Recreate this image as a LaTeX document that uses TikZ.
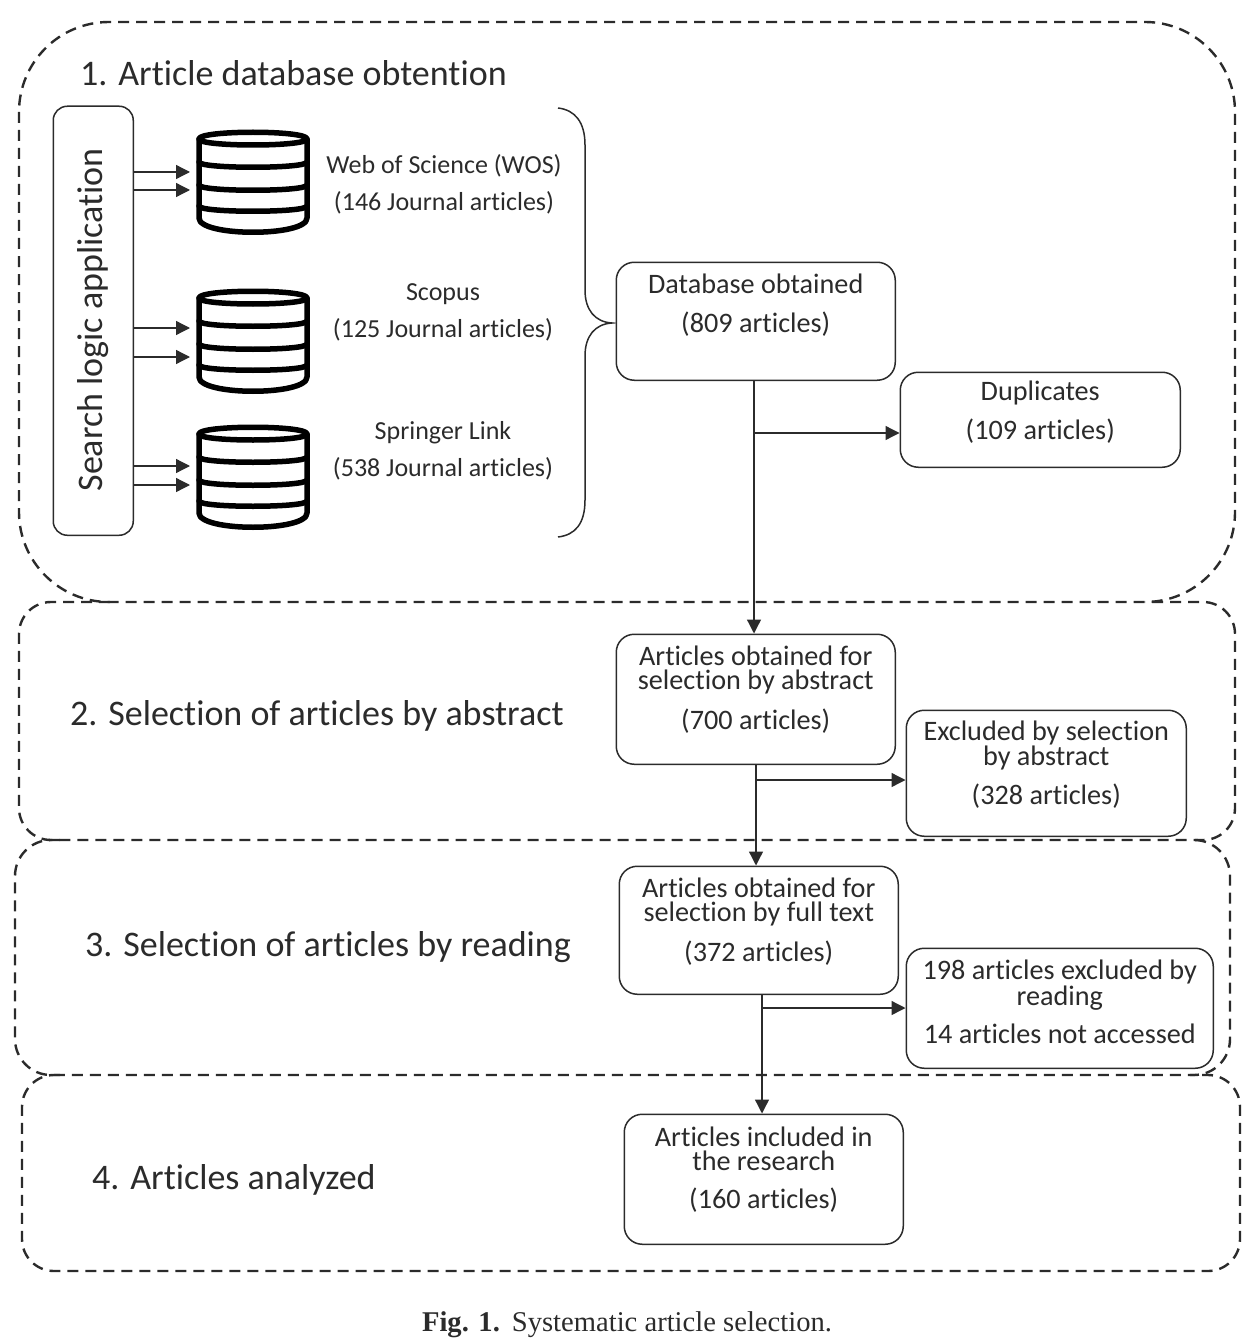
\documentclass[tikz,border=0pt]{standalone}
\usepackage{fontspec}
\setmainfont{Carlito}[Ligatures={NoCommon,NoContextual}]
\newfontfamily\capfont{Liberation Serif}
\usetikzlibrary{arrows.meta}
\definecolor{ink}{HTML}{2B2B2B}
\tikzset{
  x=1pt,y=-1pt,
  every node/.style={text=ink},
  region/.style={draw=ink,line width=2.4pt,dash pattern=on 11pt off 7pt},
  flowbox/.style={draw=ink,line width=1.5pt,rounded corners=18pt,fill=white,inner sep=0pt,anchor=north west},
  boxtext/.style={align=center,font=\fontsize{28.2}{24}\selectfont,inner sep=0pt},
  boxtextwide/.style={align=center,font=\fontsize{28.2}{39}\selectfont,inner sep=0pt},
  dbtext/.style={align=center,font=\fontsize{26}{37}\selectfont,inner sep=0pt},
  heading/.style={font=\fontsize{36}{40}\selectfont,inner sep=0pt,anchor=base west},
  flow/.style={draw=ink,line width=1.3pt,-{Triangle[length=14pt,width=14pt]}},
  dbline/.style={draw=black,line width=5.5pt,line cap=round,line join=round},
}
\newcommand{\dbicon}[1]{%
  \begin{scope}[shift={(0,#1)}]
    \draw[dbline] (199,9) .. controls (199,0) and (307,0) .. (307,9) .. controls (307,17) and (199,17) .. (199,9);
    \draw[dbline] (199,9) -- (199,88) .. controls (199,107) and (307,107) .. (307,88) -- (307,9);
    \draw[dbline] (199,32) .. controls (199,39) and (307,39) .. (307,32);
    \draw[dbline] (199,55) .. controls (199,62) and (307,62) .. (307,55);
    \draw[dbline] (199,76) .. controls (199,83) and (307,83) .. (307,76);
  \end{scope}}
\begin{document}
\begin{tikzpicture}
\useasboundingbox (0,0) rectangle (1258,1340);
% regions: shared edges are drawn only once so that the dashes stay visible
\draw[region,rounded corners=90pt] (19,22) rectangle (1235,602);
\draw[region,rounded corners=32pt] (110,602) -| (19,840) -| (1235,602) -- (1145,602);
\draw[region,rounded corners=36pt] (60,840) -| (15,1075) -| (1230,840) -- (1190,840);
\draw[region,rounded corners=32pt] (60,1075) -| (22,1271) -| (1240,1075) -- (1190,1075);
% headings
\node[heading] (h1) at (80,86) {1. Article database obtention};
\node[heading] (h2) at (70,725) {2. Selection of articles by abstract};
\node[heading] (h3) at (85,956) {3. Selection of articles by reading};
\node[heading] (h4) at (92,1189) {4. Articles analyzed};
% search logic box
\node[flowbox,rounded corners=14pt,minimum width=80pt,minimum height=429pt,
  label={[inner sep=0pt,rotate=90,font=\fontsize{36}{40}\selectfont,xshift=1pt]center:Search logic application}] (search) at (52.5,105.5) {};
% databases
\dbicon{130}\dbicon{289}\dbicon{425}
\coordinate (a1) at (190,172); \coordinate (a2) at (190,190);
\coordinate (a3) at (190,328); \coordinate (a4) at (190,357);
\coordinate (a5) at (190,466); \coordinate (a6) at (190,485);
\foreach \n in {a1,a2,a3,a4,a5,a6} \draw[flow] (search.east |- \n) -- (\n);
\node[dbtext] (wos) at (444,184) {Web of Science (WOS)\\(146 Journal articles)};
\node[dbtext] (sco) at (443,312) {Scopus\\(125 Journal articles)};
\node[dbtext] (spr) at (443,451) {Springer Link\\(538 Journal articles)};
% brace
\draw[draw=ink,line width=1.5pt] (558,108) .. controls (575,110) and (585,122) .. (585,145)
  -- (585,290) .. controls (585,310) and (595,322) .. (612,323)
  .. controls (595,324) and (585,336) .. (585,356)
  -- (585,500) .. controls (585,524) and (575,535) .. (558,537);
% boxes
\node[flowbox,minimum width=279pt,minimum height=118pt,
  label={[boxtextwide,yshift=16.5pt]center:Database obtained\\(809 articles)}] (b1) at (615.5,261.5) {};
\node[flowbox,minimum width=280pt,minimum height=95pt,
  label={[boxtextwide,yshift=7.5pt]center:Duplicates\\(109 articles)}] (b2) at (899.5,371.5) {};
\node[flowbox,minimum width=279pt,minimum height=130pt,
  label={[boxtext,yshift=9.5pt]center:Articles obtained for\\selection by abstract\\[13.5pt](700 articles)}] (b3) at (615.5,633.5) {};
\node[flowbox,minimum width=280pt,minimum height=126pt,
  label={[boxtext,yshift=8.5pt]center:Excluded by selection\\by abstract\\[13.5pt](328 articles)}] (b4) at (905.5,709.5) {};
\node[flowbox,minimum width=279pt,minimum height=128pt,
  label={[boxtext,yshift=8.5pt]center:Articles obtained for\\selection by full text\\[13.5pt](372 articles)}] (b5) at (618.5,865.5) {};
\node[flowbox,minimum width=307pt,minimum height=120pt,
  label={[boxtext,yshift=6pt]center:198 articles excluded by\\reading\\[13.5pt]14 articles not accessed}] (b6) at (905.5,947.5) {};
\node[flowbox,minimum width=279pt,minimum height=130pt,
  label={[boxtext,yshift=9.5pt]center:Articles included in\\the research\\[13.5pt](160 articles)}] (b7) at (623.5,1113.5) {};
% connectors
\coordinate (j1) at (754,433); \coordinate (j2) at (756,780); \coordinate (j3) at (762,1008);
\draw[flow] (b1.south -| j1) -- (b3.north -| j1);
\draw[flow] (j1) -- (b2.west |- j1);
\draw[flow] (b3.south -| j2) -- (b5.north -| j2);
\draw[flow] (j2) -- (b4.west |- j2);
\draw[flow] (b5.south -| j3) -- (b7.north -| j3);
\draw[flow] (j3) -- (b6.west |- j3);
% caption
\node[inner sep=0pt,anchor=base,font=\capfont\fontsize{28.6}{30}\selectfont] (cap) at (627,1331) {\textbf{Fig. 1.}\hspace{12pt}Systematic article selection.};
\end{tikzpicture}
\end{document}
